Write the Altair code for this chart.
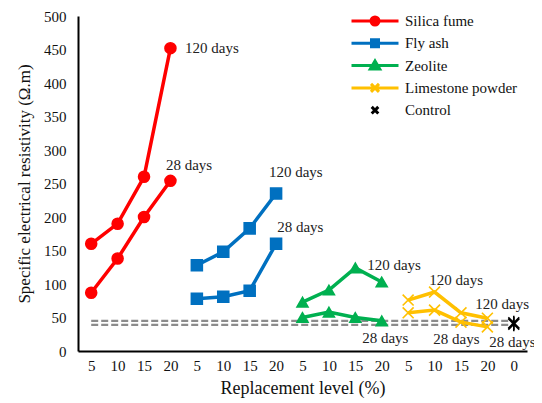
import altair as alt
import pandas as pd

# ---------------- data ----------------
tick_labels = ["5", "10", "15", "20"] * 4 + ["0"]
groups = ["Silica fume", "Fly ash", "Zeolite", "Limestone powder"]
legend_names = groups + ["Control"]
colors = ["#FF0000", "#0070C0", "#00B050", "#FFC000"]

sf_28 = [87, 138, 200, 254]
sf_120 = [160, 190, 260, 452]
fa_28 = [78, 81, 90, 160]
fa_120 = [128, 148, 183, 235]
ze_28 = [50, 58, 50, 45]
ze_120 = [73, 91, 124, 103]
lp_28 = [57, 61, 43, 36]
lp_120 = [76, 88, 57, 49]
control = [40, 42]

ref_lines = [45, 39]

label_text = ["120 days", "28 days", "120 days", "28 days", "120 days",
              "28 days", "120 days", "120 days", "28 days", "28 days"]
label_x = [4.05, 3.33, 7.23, 7.54, 10.95, 10.76, 13.3, 15.04, 13.45, 15.57]
label_y = [452, 278, 267, 185, 128, 19, 106, 70, 18, 13]

# ---------------- tables ----------------
series_values = {
    "Silica fume": (sf_28, sf_120),
    "Fly ash": (fa_28, fa_120),
    "Zeolite": (ze_28, ze_120),
    "Limestone powder": (lp_28, lp_120),
}
rows = []
for g, name in enumerate(groups):
    v28, v120 = series_values[name]
    for age, vals in (("28", v28), ("120", v120)):
        for j, v in enumerate(vals):
            rows.append({"x": g * 4 + j + 0.5, "value": v, "series": name,
                         "line": f"{name}-{age}"})
for age, v in zip(("28", "120"), control):
    rows.append({"x": len(tick_labels) - 0.5, "value": v, "series": "Control",
                 "line": f"Control-{age}"})
df = pd.DataFrame(rows)

ref_df = pd.DataFrame({"x": [0.5] * len(ref_lines),
                       "x2": [len(tick_labels) - 0.5] * len(ref_lines),
                       "y": ref_lines})
lab_df = pd.DataFrame({"x": label_x, "y": label_y, "text": label_text})
leg_df = pd.DataFrame({"legend": legend_names})

FONT = "Liberation Serif"
label_expr = "[" + ",".join(f"'{t}'" for t in tick_labels) + "][floor(datum.value)]"

xscale = alt.Scale(domain=[0, len(tick_labels)], nice=False, zero=False)
yscale = alt.Scale(domain=[0, 500], nice=False)

x_axis = alt.Axis(values=[i + 0.5 for i in range(len(tick_labels))],
                  labelExpr=label_expr, title="Replacement level (%)",
                  labelOverlap=False, labelPadding=7, titlePadding=6,
                  labelFont=FONT, titleFont=FONT, labelFontSize=15, titleFontSize=18)
y_axis = alt.Axis(values=list(range(0, 501, 50)),
                  title="Specific electrical resistivity (Ω.m)",
                  labelOverlap=False, labelPadding=12, titlePadding=10,
                  labelFont=FONT, titleFont=FONT, labelFontSize=15, titleFontSize=17)

refs = alt.Chart(ref_df).mark_rule(color="#8c8c8c", strokeWidth=2.2,
                                   strokeDash=[7, 3]).encode(
    x=alt.X("x:Q", scale=xscale, axis=x_axis),
    x2="x2:Q",
    y=alt.Y("y:Q", scale=yscale, axis=y_axis),
)

lines = alt.Chart(df).transform_filter(
    alt.datum.series != "Control"
).mark_line(strokeWidth=3.5).encode(
    x=alt.X("x:Q", scale=xscale, axis=x_axis),
    y=alt.Y("value:Q", scale=yscale, axis=y_axis),
    color=alt.Color("series:N", scale=alt.Scale(domain=groups, range=colors), legend=None),
    detail="line:N",
)

point_shapes = ["circle", "square", "triangle-up",
                "M-1,-1L1,1M-1,1L1,-1",
                "M-1,-1L1,1M-1,1L1,-1M0,-1.3L0,1.3"]
pt_colors = colors + ["#000000"]

points = alt.Chart(df).mark_point(filled=True, opacity=1, strokeWidth=1.6, size=120).encode(
    x=alt.X("x:Q", scale=xscale, axis=x_axis),
    y=alt.Y("value:Q", scale=yscale, axis=y_axis),
    shape=alt.Shape("series:N", scale=alt.Scale(domain=legend_names, range=point_shapes), legend=None),
    fill=alt.Fill("series:N", scale=alt.Scale(domain=legend_names, range=pt_colors), legend=None),
    stroke=alt.Stroke("series:N", scale=alt.Scale(domain=legend_names, range=pt_colors), legend=None),
)

texts = alt.Chart(lab_df).mark_text(align="left", baseline="middle", font=FONT,
                                    fontSize=15, color="#222").encode(
    x=alt.X("x:Q", scale=xscale, axis=x_axis),
    y=alt.Y("y:Q", scale=yscale, axis=y_axis),
    text="text:N",
)

legend_paths = [
    "M-1,0H1M-0.17,0A0.17,0.17,0,1,0,0.17,0A0.17,0.17,0,1,0,-0.17,0Z",
    "M-1,0H1M-0.15,-0.15H0.15V0.15H-0.15Z",
    "M-1,0H1M0,-0.2L0.2,0.14H-0.2Z",
    "M-1,0H1M-0.17,-0.17L0.17,0.17M-0.17,0.17L0.17,-0.17",
    "M-0.14,-0.14L0.14,0.14M-0.14,0.14L0.14,-0.14",
]
leg = alt.Legend(orient="none", legendX=272, legendY=-6, title=None, padding=0,
                 symbolSize=2209, symbolStrokeWidth=3, clipHeight=22, rowPadding=0.3,
                 labelOffset=5, labelFont=FONT, labelFontSize=15)

legend_layer = alt.Chart(leg_df).transform_filter("false").mark_point(
    filled=True, opacity=1).encode(
    shape=alt.Shape("legend:N", scale=alt.Scale(domain=legend_names, range=legend_paths), legend=leg),
    fill=alt.Fill("legend:N", scale=alt.Scale(domain=legend_names, range=pt_colors), legend=leg),
    stroke=alt.Stroke("legend:N", scale=alt.Scale(domain=legend_names, range=pt_colors), legend=leg),
)

chart = alt.layer(refs, lines, points, texts, legend_layer).resolve_scale(
    shape="independent", fill="independent", stroke="independent"
).properties(
    width=449, height=335,
    autosize=alt.AutoSizeParams(type="none"),
    padding={"left": 70, "top": 8, "right": 7, "bottom": 52},
).configure(
    font=FONT,
    style={"guide-label": {"font": FONT}, "guide-title": {"font": FONT}},
).configure_view(stroke=None).configure_axis(
    grid=False, ticks=False, domainColor="black", domainWidth=2,
    labelFont=FONT, titleFont=FONT,
    labelColor="#111", titleFontWeight="normal", titleColor="#111",
).configure_legend(
    labelFont=FONT, labelColor="#111",
)

chart.save("out.html", embed_options={"renderer": "svg", "actions": False})
